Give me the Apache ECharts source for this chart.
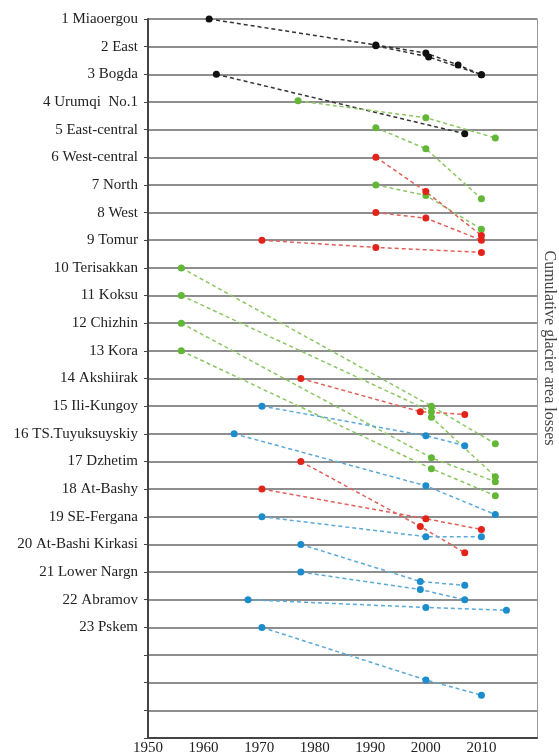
<!DOCTYPE html>
<html>
<head>
<meta charset="utf-8">
<script src="https://cdn.jsdelivr.net/npm/echarts@6/dist/echarts.min.js"></script>
<style>html,body{margin:0;padding:0;background:#fff}#c{width:559px;height:756px}</style>
</head>
<body>
<div id="c"></div>
<script>
// Row labels (position 1..23 on the vertical scale)
const glacierNames = ["1 Miaoergou","2 East","3 Bogda","4 Urumqi  No.1","5 East-central","6 West-central","7 North","8 West","9 Tomur","10 Terisakkan","11 Koksu","12 Chizhin","13 Kora","14 Akshiirak","15 Ili-Kungoy","16 TS.Tuyuksuyskiy","17 Dzhetim","18 At-Bashy","19 SE-Fergana","20 At-Bashi Kirkasi","21 Lower Nargn","22 Abramov","23 Pskem"];
const xTicks = [1950,1960,1970,1980,1990,2000,2010];

// [year, cumulative position]
const miaoergou = [[1961,1.0],[1991,1.94],[2000,2.23],[2005.8,2.66],[2010,3.02]];
const east = [[1991,1.97],[2000.5,2.37],[2010,3.02]];
const bogda = [[1962.3,3.0],[2007,5.15]];
const urumqi = [[1977,3.96],[2000,4.57],[2012.5,5.3]];
const eastCentral = [[1991,4.93],[2000,5.69],[2010,7.5]];
const westCentral = [[1991,6.0],[2000,7.24],[2010,8.83]];
const north = [[1991,7.0],[2000,7.38],[2010,8.6]];
const west = [[1991,8.0],[2000,8.2],[2010,9.0]];
const tomur = [[1970.5,9.0],[1991,9.26],[2010,9.44]];
const terisakkan = [[1956,10],[2001,15.0],[2012.5,16.36]];
const koksu = [[1956,11],[2001,15.2],[2001,15.4],[2012.5,17.55]];
const chizhin = [[1956,12],[2001,16.87],[2012.5,17.73]];
const kora = [[1956,13],[2001,17.26],[2012.5,18.24]];
const akshiirak = [[1977.5,14],[1999,15.2],[2007,15.3]];
const iliKungoy = [[1970.5,15],[2000,16.07],[2007,16.43]];
const tuyuksuyskiy = [[1965.5,16],[2000,17.88],[2012.5,18.92]];
const dzhetim = [[1977.5,17],[1999,19.35],[2007,20.3]];
const atBashy = [[1970.5,18],[2000,19.07],[2010,19.46]];
const seFergana = [[1970.5,19],[2000,19.72],[2010,19.72]];
const atBashiKirkasi = [[1977.5,20],[1999,21.34],[2007,21.48]];
const lowerNargn = [[1977.5,21],[1999,21.63],[2007,22.0]];
const abramov = [[1968,22],[2000,22.28],[2014.5,22.38]];
const pskem = [[1970.5,23],[2000,24.9],[2010,25.45]];

const groups = [
  {color:'#111111', line:'#333333', items:[miaoergou,east,bogda]},
  {color:'#62b836', line:'#8cc763', items:[urumqi,eastCentral,north,terisakkan,koksu,chizhin,kora]},
  {color:'#e2231a', line:'#e0605a', items:[westCentral,west,tomur,akshiirak,dzhetim,atBashy]},
  {color:'#1b8ccc', line:'#5aa9d6', items:[iliKungoy,tuyuksuyskiy,seFergana,atBashiKirkasi,lowerNargn,abramov,pskem]}
];

const series = [];
groups.forEach(g => g.items.forEach(d => {
  series.push({
    type:'line', data:d, symbol:'circle', symbolSize:7,
    itemStyle:{color:g.color}, lineStyle:{color:g.line, width:1.5, type:[4,3]},
    z:3, animation:false
  });
}));

const serif = '"Liberation Serif","DejaVu Serif",serif';
const chart = echarts.init(document.getElementById('c'));
chart.setOption({
  animation:false,
  grid:{left:148, right:22, top:19, bottom:17},
  xAxis:{type:'value', min:1950, max:2020, interval:10,
    axisLine:{onZero:false, lineStyle:{color:'#444', width:2}},
    axisTick:{show:false}, splitLine:{show:false},
    axisLabel:{color:'#222', fontFamily:serif, fontSize:15, margin:3,
      formatter:v => xTicks.indexOf(v) >= 0 ? String(v) : ''}},
  yAxis:[{type:'value', inverse:true, min:1, max:27, interval:1,
    axisLine:{show:true, lineStyle:{color:'#444', width:2}},
    axisTick:{show:true, length:4, lineStyle:{color:'#444'}},
    splitLine:{show:true, lineStyle:{color:'#8e8e8e', width:2}},
    axisLabel:{color:'#222', fontFamily:serif, fontSize:15, margin:10,
      formatter:v => glacierNames[v-1] || ''}},
    {type:'value', inverse:true, min:1, max:27, interval:1, position:'right',
    axisLine:{show:true, lineStyle:{color:'#999', width:1}},
    axisTick:{show:false}, axisLabel:{show:false}, splitLine:{show:false}}],
  graphic:[{type:'text', x:549, y:348, rotation:-Math.PI/2,
    style:{text:'Cumulative glacier area losses', fontFamily:serif, fontSize:16, fill:'#444',
      align:'center', verticalAlign:'middle'}}],
  series:series
});
</script>
</body>
</html>
